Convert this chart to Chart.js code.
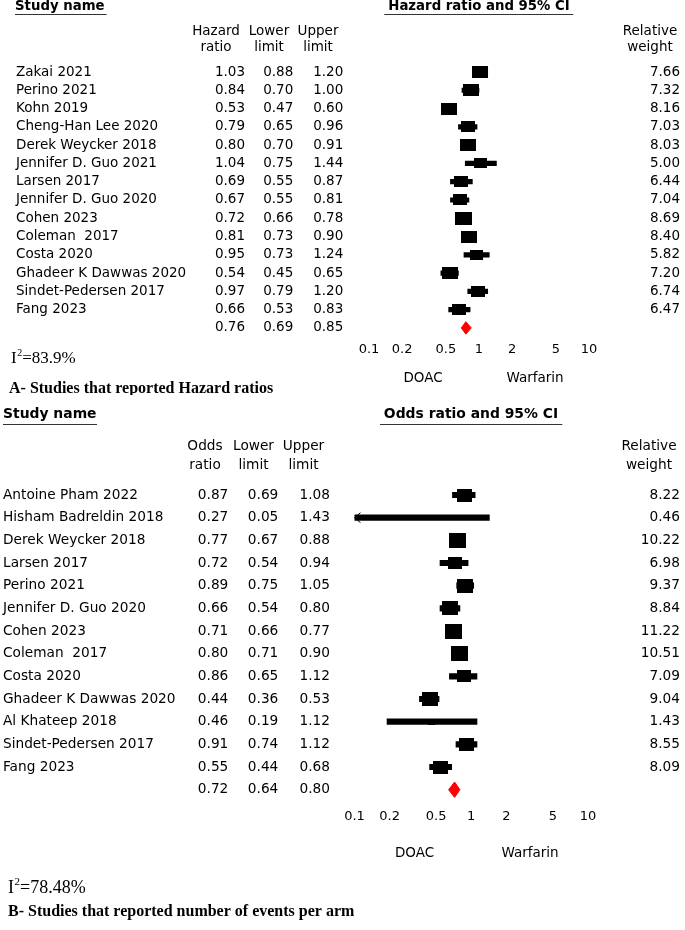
<!DOCTYPE html>
<html>
<head>
<meta charset="utf-8">
<script src="https://cdn.jsdelivr.net/npm/chart.js@4"></script>
<style>
html,body{margin:0;padding:0;background:#fff;}
#wrap{position:relative;width:685px;height:930px;overflow:hidden;}
canvas{position:absolute;left:0;}
</style>
</head>
<body>
<div id="wrap">
<canvas id="cA" width="685" height="395" style="top:0px"></canvas>
<canvas id="cB" width="685" height="535" style="top:395px"></canvas>
</div>
<script>
// ---------- DATA ----------
const axisTicks = [0.1, 0.2, 0.5, 1, 2, 5, 10];
const axisTickLabels = ['0.1', '0.2', '0.5', '1', '2', '5', '10'];
const favourLabels = ['DOAC', 'Warfarin'];

// Panel A: hazard ratios
const hrStudies = ['Zakai 2021', 'Perino 2021', 'Kohn 2019', 'Cheng-Han Lee 2020', 'Derek Weycker 2018',
  'Jennifer D. Guo 2021', 'Larsen 2017', 'Jennifer D. Guo 2020', 'Cohen 2023', 'Coleman  2017',
  'Costa 2020', 'Ghadeer K Dawwas 2020', 'Sindet-Pedersen 2017', 'Fang 2023'];
const hrValues = [1.03, 0.84, 0.53, 0.79, 0.80, 1.04, 0.69, 0.67, 0.72, 0.81, 0.95, 0.54, 0.97, 0.66];
const hrLower  = [0.88, 0.70, 0.47, 0.65, 0.70, 0.75, 0.55, 0.55, 0.66, 0.73, 0.73, 0.45, 0.79, 0.53];
const hrUpper  = [1.20, 1.00, 0.60, 0.96, 0.91, 1.44, 0.87, 0.81, 0.78, 0.90, 1.24, 0.65, 1.20, 0.83];
const hrWeights = [7.66, 7.32, 8.16, 7.03, 8.03, 5.00, 6.44, 7.04, 8.69, 8.40, 5.82, 7.20, 6.74, 6.47];
const hrPooled = [0.76, 0.69, 0.85];
const hrColumnHeads = [['Hazard', 'ratio'], ['Lower', 'limit'], ['Upper', 'limit']];
const hrTitle = 'Hazard ratio and 95% CI';
const hrHeterogeneity = '=83.9%';
const hrCaption = 'A- Studies that reported Hazard ratios';

// Panel B: odds ratios
const orStudies = ['Antoine Pham 2022', 'Hisham Badreldin 2018', 'Derek Weycker 2018', 'Larsen 2017',
  'Perino 2021', 'Jennifer D. Guo 2020', 'Cohen 2023', 'Coleman  2017', 'Costa 2020',
  'Ghadeer K Dawwas 2020', 'Al Khateep 2018', 'Sindet-Pedersen 2017', 'Fang 2023'];
const orValues = [0.87, 0.27, 0.77, 0.72, 0.89, 0.66, 0.71, 0.80, 0.86, 0.44, 0.46, 0.91, 0.55];
const orLower  = [0.69, 0.05, 0.67, 0.54, 0.75, 0.54, 0.66, 0.71, 0.65, 0.36, 0.19, 0.74, 0.44];
const orUpper  = [1.08, 1.43, 0.88, 0.94, 1.05, 0.80, 0.77, 0.90, 1.12, 0.53, 1.12, 1.12, 0.68];
const orWeights = [8.22, 0.46, 10.22, 6.98, 9.37, 8.84, 11.22, 10.51, 7.09, 9.04, 1.43, 8.55, 8.09];
const orPooled = [0.72, 0.64, 0.80];
const orColumnHeads = [['Odds', 'ratio'], ['Lower', 'limit'], ['Upper', 'limit']];
const orTitle = 'Odds ratio and 95% CI';
const orHeterogeneity = '=78.48%';
const orCaption = 'B- Studies that reported number of events per arm';

const weightHead = ['Relative', 'weight'];
const studyHead = 'Study name';

// ---------- RENDERING ----------
const SANS = '"DejaVu Sans", "Noto Sans", sans-serif';
const SERIF = '"Liberation Serif", "Times New Roman", serif';

function makeBox(w, k, ratio) {
  const c = document.createElement('canvas');
  const h = Math.max(1, Math.round(k * Math.sqrt(w)));
  c.width = Math.max(1, Math.round(h * ratio));
  c.height = h;
  const g = c.getContext('2d');
  g.fillStyle = '#000';
  g.fillRect(0, 0, c.width, c.height);
  return c;
}

function textPlugin(P) {
  return {
    id: 'forestText' + P.id,
    afterDatasetsDraw(chart) {
      const xs = chart.scales.x, ys = chart.scales.y, c = chart.ctx;
      c.save();
      c.strokeStyle = '#000';
      c.lineWidth = 1;
      P.lower.forEach((lo, i) => {
        if (lo < xs.min) {
          const y = ys.getPixelForValue(i);
          const x0 = xs.left;
          c.beginPath();
          c.moveTo(x0 + 6, y - 5);
          c.lineTo(x0, y);
          c.lineTo(x0 + 6, y + 5);
          c.stroke();
        }
      });
      c.restore();
    },
    afterDraw(chart) {
      const c = chart.ctx, ys = chart.scales.y;
      c.save();
      c.fillStyle = '#000';
      c.strokeStyle = '#000';
      c.textBaseline = 'middle';
      const n = P.studies.length;
      c.font = P.fs + 'px ' + SANS;
      for (let i = 0; i < n; i++) {
        const y = ys.getPixelForValue(i);
        c.textAlign = 'left';
        c.fillText(P.studies[i], P.nameX, y);
        c.textAlign = 'right';
        c.fillText(P.values[i].toFixed(2), P.colRight[0], y);
        c.fillText(P.lower[i].toFixed(2), P.colRight[1], y);
        c.fillText(P.upper[i].toFixed(2), P.colRight[2], y);
        c.fillText(P.weights[i].toFixed(2), P.weightRight, y);
      }
      const yp = ys.getPixelForValue(n);
      c.textAlign = 'right';
      P.pooled.forEach((v, k) => c.fillText(v.toFixed(2), P.colRight[k], yp));

      c.textAlign = 'center';
      P.colHeads.forEach((pair, k) => {
        c.fillText(pair[0], P.colHeadX[k], P.colHeadY[0]);
        c.fillText(pair[1], P.colHeadX[k], P.colHeadY[1]);
      });
      c.fillText(weightHead[0], P.relX, P.colHeadY[0]);
      c.fillText(weightHead[1], P.relX, P.colHeadY[1]);

      c.font = 'bold ' + P.fsHead + 'px ' + SANS;
      c.textAlign = 'left';
      c.fillText(studyHead, P.studyX, P.headY);
      c.textAlign = 'center';
      c.fillText(P.title, P.titleX, P.headY);
      c.lineWidth = 1;
      c.strokeStyle = '#333';
      c.beginPath();
      c.moveTo(P.ulStudy[0], P.ulY); c.lineTo(P.ulStudy[1], P.ulY);
      c.moveTo(P.ulTitle[0], P.ulY); c.lineTo(P.ulTitle[1], P.ulY);
      c.stroke();

      c.font = P.fsFav + 'px ' + SANS;
      c.textAlign = 'center';
      c.fillText(favourLabels[0], P.favX[0], P.favY);
      c.fillText(favourLabels[1], P.favX[1], P.favY);

      c.textBaseline = 'alphabetic';
      c.textAlign = 'left';
      c.font = P.hetFs + 'px ' + SERIF;
      let x = P.hetX;
      c.fillText('I', x, P.hetBase);
      x += c.measureText('I').width + 0.5;
      c.font = Math.round(P.hetFs * 0.6) + 'px ' + SERIF;
      c.fillText('2', x, P.hetBase - P.hetFs * 0.42);
      x += c.measureText('2').width;
      c.font = P.hetFs + 'px ' + SERIF;
      c.fillText(P.het, x, P.hetBase);

      c.font = 'bold ' + P.capFs + 'px ' + SERIF;
      c.fillText(P.caption, P.capX, P.capBase);
      c.restore();
    }
  };
}

function buildPanel(canvasId, P) {
  const n = P.studies.length;
  const boxes = P.weights.map(w => makeBox(w, P.boxK, P.boxRatio));
  const ciData = P.studies.map((_, i) => ({ y: i, x: [P.lower[i], P.upper[i]] }));
  const ptData = P.studies.map((_, i) => ({ x: P.values[i], y: i }));
  const [pv, pl, pu] = P.pooled;
  const h = 0.34;
  const diamond = [
    { x: pl, y: n }, { x: pv, y: n - h }, { x: pu, y: n }, { x: pv, y: n + h }, { x: pl, y: n }
  ];
  const areaTop = P.row0 - P.rowStep / 2;
  const areaBottom = areaTop + (n + 1) * P.rowStep;

  new Chart(document.getElementById(canvasId), {
    type: 'scatter',
    data: {
      datasets: [
        { type: 'bar', indexAxis: 'y', data: ciData, backgroundColor: '#000', borderWidth: 0,
          barThickness: P.lineW, grouped: false, clip: 0 },
        { type: 'scatter', data: ptData, pointStyle: (ctx) => boxes[ctx.dataIndex],
          pointRadius: 5, pointHoverRadius: 5, backgroundColor: '#000', borderWidth: 0 },
        { type: 'scatter', data: diamond, showLine: true, fill: 'shape', tension: 0,
          backgroundColor: '#ff0000', borderColor: '#ff0000', borderWidth: 1, pointRadius: 0, pointHoverRadius: 0 }
      ]
    },
    options: {
      responsive: false,
      animation: false,
      devicePixelRatio: 1,
      events: [],
      layout: { padding: { left: P.areaLeft, right: 685 - P.areaRight, top: areaTop, bottom: P.height - areaBottom - P.axisH } },
      plugins: { legend: { display: false }, tooltip: { enabled: false } },
      scales: {
        x: {
          type: 'logarithmic', min: 0.1, max: 10, offset: false,
          grid: { display: false, drawTicks: false, tickLength: 0, offset: false },
          border: { display: false },
          afterBuildTicks: (s) => { s.ticks = axisTicks.map(v => ({ value: v })); },
          afterFit: (s) => { s.height = P.axisH; },
          ticks: {
            padding: P.tickPad, color: '#000', autoSkip: false, maxRotation: 0,
            font: { family: SANS, size: P.fsTick },
            callback: (v) => { const k = axisTicks.indexOf(v); return k >= 0 ? axisTickLabels[k] : ''; }
          }
        },
        y: { type: 'linear', display: false, reverse: true, min: -0.5, max: n + 0.5,
             offset: false, grace: 0, grid: { offset: false } }
      }
    },
    plugins: [textPlugin(P)]
  });
}

buildPanel('cA', {
  id: 'A', height: 395,
  studies: hrStudies, values: hrValues, lower: hrLower, upper: hrUpper, weights: hrWeights, pooled: hrPooled,
  colHeads: hrColumnHeads, title: hrTitle, het: hrHeterogeneity, caption: hrCaption,
  areaLeft: 369, areaRight: 589, row0: 72, rowStep: 18.28, axisH: 20, tickPad: 4.4, fsTick: 13,
  fs: 13.5, fsHead: 13.3, fsFav: 13.5,
  nameX: 16, colRight: [245, 293.3, 343.3], weightRight: 680,
  colHeadX: [216, 269, 318], colHeadY: [31, 47], relX: 650,
  studyX: 15, headY: 6.7, titleX: 479, ulStudy: [15, 106.7], ulTitle: [384.3, 573.3], ulY: 14.5,
  favX: [423, 535], favY: 378,
  hetX: 11, hetBase: 363, hetFs: 17, capX: 9, capBase: 393, capFs: 16,
  boxK: 4.3, boxRatio: 1.3, lineW: 4.5
});

buildPanel('cB', {
  id: 'B', height: 535,
  studies: orStudies, values: orValues, lower: orLower, upper: orUpper, weights: orWeights, pooled: orPooled,
  colHeads: orColumnHeads, title: orTitle, het: orHeterogeneity, caption: orCaption,
  areaLeft: 354.5, areaRight: 588, row0: 100, rowStep: 22.67, axisH: 20, tickPad: 7.8, fsTick: 13,
  fs: 13.7, fsHead: 13.9, fsFav: 13.5,
  nameX: 3, colRight: [228.3, 278.3, 330], weightRight: 680,
  colHeadX: [205, 253.5, 303.5], colHeadY: [51, 70], relX: 649,
  studyX: 3, headY: 19, titleX: 471, ulStudy: [3, 97], ulTitle: [380, 562.3], ulY: 29.5,
  favX: [414.5, 530], favY: 458,
  hetX: 8, hetBase: 498, hetFs: 18, capX: 8, capBase: 521, capFs: 16,
  boxK: 4.6, boxRatio: 1.15, lineW: 5.5
});
</script>
</body>
</html>
